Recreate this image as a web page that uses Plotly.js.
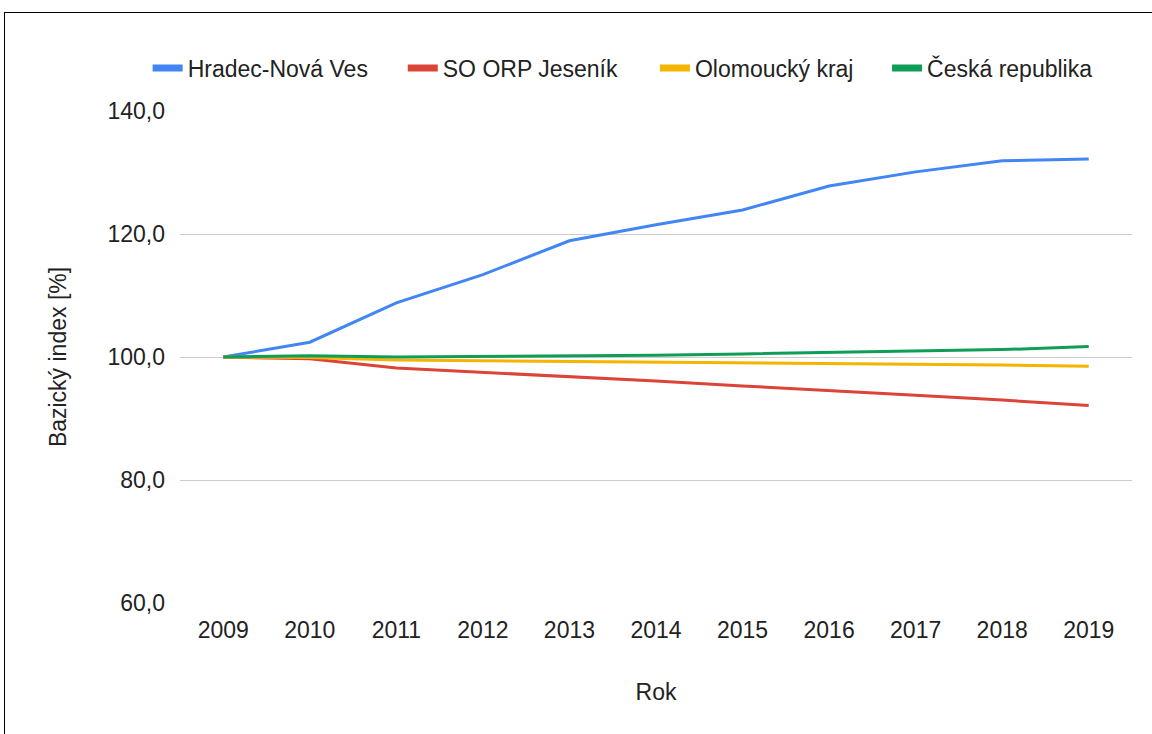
<!DOCTYPE html>
<html><head><meta charset="utf-8">
<script src="https://cdn.plot.ly/plotly-3.0.1.min.js"></script>
<style>
html,body{margin:0;padding:0;background:#fff;overflow:hidden;}
#frame{position:absolute;left:4px;top:12px;width:1170px;height:760px;border:1px solid #000;box-sizing:border-box;pointer-events:none;z-index:5;}
#chart{position:absolute;left:0;top:0;width:1152px;height:734px;}
</style></head>
<body>
<div id="chart"></div>
<div id="frame"></div>
<script>
const years = ["2009","2010","2011","2012","2013","2014","2015","2016","2017","2018","2019"];
const hradec = [100.0,102.4,108.8,113.4,118.9,121.5,123.9,127.8,130.1,131.9,132.2];
const jesenik = [100.0,99.7,98.2,97.5,96.9,96.1,95.3,94.6,93.8,93.0,92.1];
const olomoucky = [100.0,99.9,99.5,99.4,99.2,99.1,99.0,98.9,98.8,98.7,98.5];
const cr = [100.0,100.2,100.0,100.1,100.1,100.3,100.5,100.7,100.9,101.2,101.7];
const seriesNames = ["Hradec-Nová Ves","SO ORP Jeseník","Olomoucký kraj","Česká republika"];
const colors = ["#4285F4","#DB4437","#F4B400","#0F9D58"];
const legendIds = ["legend","legend2","legend3","legend4"];
const legendX = [-0.034, 0.234, 0.4989, 0.7427];
const lines = [hradec, jesenik, olomoucky, cr].map((v,i)=>({
  x: years, y: v, name: seriesNames[i], type:'scatter', mode:'lines',
  line:{color:colors[i], width:3}, showlegend:false
}));
const legendItems = seriesNames.map((n,i)=>({
  x:[null], y:[null], name:n, type:'scatter', mode:'lines', legend:legendIds[i],
  line:{color:colors[i], width:7}
}));
const txt = '#222';
const fam = 'Liberation Sans, Arial, sans-serif';
const FS = 23;
const layout = {
  width:1152, height:734,
  margin:{l:180, r:20, t:111, b:131},
  paper_bgcolor:'#fff', plot_bgcolor:'#fff',
  font:{family:fam, size:FS, color:txt},
  separators: ',.',
  showlegend:true,
  xaxis:{type:'category', range:[-0.5,10.5], showgrid:false, zeroline:false, showline:false,
    ticks:'', tickfont:{size:FS, color:txt}, ticklabelstandoff:11,
    title:{text:'Rok', font:{size:FS, color:txt}, standoff:41}},
  yaxis:{range:[60,140], dtick:20, tick0:60, tickformat:'.1f', showgrid:true, gridcolor:'#cccccc', gridwidth:1,
    zeroline:false, showline:false, ticks:'', tickfont:{size:FS, color:txt}, ticklabelstandoff:14,
    title:{text:'Bazický index [%]', font:{size:FS, color:txt}, standoff:34}},
};
legendIds.forEach((id,i)=>{
  layout[id] = {orientation:'h', x:legendX[i], xanchor:'left', y:1.0874, yanchor:'middle',
    font:{family:fam, size:FS, color:txt}, itemwidth:30, bgcolor:'rgba(0,0,0,0)'};
});
Plotly.newPlot('chart', lines.concat(legendItems), layout, {displayModeBar:false, staticPlot:true});
</script>
</body></html>
